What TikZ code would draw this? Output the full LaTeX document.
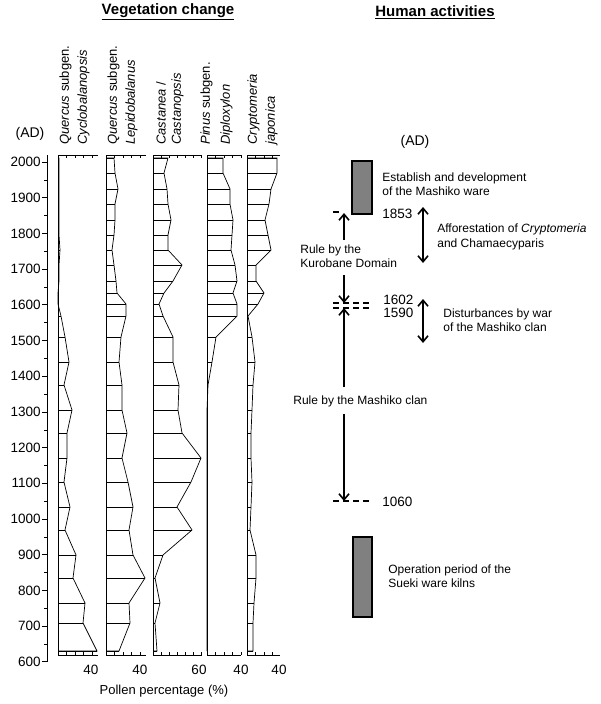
\documentclass[tikz,border=0pt]{standalone}
\usepackage{fontspec}
\setmainfont{Liberation Sans}
\usetikzlibrary{arrows.meta}
\definecolor{waregray}{RGB}{128,128,128}
\tikzset{
  txt/.style={inner sep=0pt,font=\fontsize{12}{14.5}\selectfont},
  spec/.style={inner sep=0pt,rotate=90,anchor=south west,font=\fontsize{13}{15}\selectfont},
  ware/.style={draw,line width=1.5pt,fill=waregray},
  rule/.style={line width=1.6pt,-{Straight Barb[length=6pt,width=10pt]}},
  both/.style={line width=1.6pt,{Straight Barb[length=6pt,width=10pt]}-{Straight Barb[length=6pt,width=10pt]}},
  yeardash/.style={dash pattern=on 6pt off 4pt,line width=1.2pt}
}
\def\ys{{158,173,189,204,220,235,250,265,281,293,304,316,337,362,385,410,433,458,482,507,530,555,578,603,623,651}}
% one pollen column: left edge, axis end, tick step, values
\newcommand\pollencol[4]{%
  \draw (#1,155) -- (#1,655);
  \draw (#1,155) -- (#2,155) (#1,655) -- (#2,655);
  \foreach \t in {#1,#3,...,#2} {\draw (\t,155) -- (\t,158) (\t,655) -- (\t,652);}
  \draw (#1,158) \foreach \v [count=\i] in {#4} { -- ({#1+\v},{\ys[\i-1]}) } -- (#1,651);
  \foreach \v [count=\i] in {#4} {\draw (#1,{\ys[\i-1]}) -- ({#1+\v},{\ys[\i-1]});}
}
\begin{document}
\begin{tikzpicture}[x=1pt,y=-1pt,line width=0.7pt]
\useasboundingbox (0,0) rectangle (600,704);

% headings
\node[font=\bfseries\fontsize{15}{17}\selectfont] (veg) at (168,12) {\underline{Vegetation change}};
\node[font=\bfseries\fontsize{15}{17}\selectfont] (hum) at (435,12) {\underline{Human activities}};

% year axis
\node[font=\fontsize{14}{16}\selectfont] (ad) at (30,134) {(AD)};
\draw (47,155) -- (47,662);
\foreach \a [count=\k from 0] in {2000,1900,...,600} {
  \draw (47,{162+\k*35.7}) -- (42,{162+\k*35.7});
  \node[anchor=east,inner sep=0pt,font=\fontsize{13.5}{15}\selectfont] at (41,{162+\k*35.7}) {\a};
}
\foreach \k in {0,...,13} {\draw (47,{180+\k*35.7}) -- (44,{180+\k*35.7});}

% species
\node[spec] (s1a) at (72,145) {\textit{Quercus} subgen.};
\node[spec] (s1b) at (90,145) {\textit{Cyclobalanopsis}};
\node[spec] (s2a) at (120,145) {\textit{Quercus} subgen.};
\node[spec] (s2b) at (138,145) {\textit{Lepidobalanus}};
\node[spec] (s3a) at (166,145) {\textit{Castanea} /};
\node[spec] (s3b) at (184,145) {\textit{Castanopsis}};
\node[spec] (s4a) at (213,145) {\textit{Pinus} subgen.};
\node[spec] (s4b) at (233,145) {\textit{Diploxylon}};
\node[spec] (s5a) at (260,145) {\textit{Cryptomeria}};
\node[spec] (s5b) at (278,145) {\textit{japonica}};

% pollen columns
\pollencol{58}{98}{66.5}{1,1,1,1,1,1,2,1,1,0,0,3,7,11,6,14,9,9,6,12,7,18,15,27,25,39}
\pollencol{106}{146}{114.5}{8,9,12,9,9,8,6,8,10,11,20,20,15,13,16,16,21,16,22,27,23,27,39,23,24,13}
\pollencol{153}{202}{161}{15,11,14,15,18,15,15,29,20,11,6,10,20,20,26,25,29,48,38,24,39,10,2,7,2,4}
\pollencol{207}{241}{215.5}{16,16,23,23,26,25,24,28,30,26,30,30,9,5,1,0,0,0,0,0,0,0,0,0,0,0}
\pollencol{247}{280}{255.5}{30,30,24,22,18,21,24,9,9,17,11,1,5,8,6,5,4,4,5,4,3,9,9,7,6,6}

\foreach \x/\l in {91/40,140/40,199/60,241/40,279/40}
  \node[font=\fontsize{13.5}{15}\selectfont,inner sep=0pt] at (\x,670) {\l};
\node[txt,font=\fontsize{13}{15}\selectfont] (pp) at (164,691) {Pollen percentage (\%)};

% human activities
\node[font=\fontsize{14}{16}\selectfont] (ad2) at (415,142) {(AD)};
\draw[ware] (352,161) rectangle (372,214);
\node[txt,anchor=west,align=left] (est) at (382,184) {Establish and development\\of the Mashiko ware};
\draw[ware] (353,537) rectangle (372,617);
\node[txt,anchor=west,align=left] (sue) at (388,576) {Operation period of the\\Sueki ware kilns};

\draw[line width=1.2pt] (333,212) -- (339,212);
\draw[yeardash] (333,303) -- (372,303);
\draw[yeardash] (333,308) -- (372,308);
\draw[yeardash] (333,501) -- (372,501);
\node[txt,font=\fontsize{13.5}{15}\selectfont,anchor=west] (y1853) at (382,214) {1853};
\node[txt,font=\fontsize{13.5}{15}\selectfont,anchor=west] (y1602) at (383,300) {1602};
\node[txt,font=\fontsize{13.5}{15}\selectfont,anchor=west] (y1590) at (383,313) {1590};
\node[txt,font=\fontsize{13.5}{15}\selectfont,anchor=west] (y1060) at (382,502) {1060};

\node[txt,align=left,anchor=west] (kur) at (300,256) {Rule by the\\Kurobane Domain};
\coordinate (k1) at (344,213);
\coordinate (k2) at (344,303);
\draw[rule] (344,240) -- (k1);
\draw[rule] (344,275) -- (k2);
\node[txt,anchor=west] (mas) at (293,401) {Rule by the Mashiko clan};
\coordinate (m1) at (344,308);
\coordinate (m2) at (344,501);
\draw[rule] (344,387) -- (m1);
\draw[rule] (344,414) -- (m2);

\coordinate (a1) at (423,207);
\coordinate (a2) at (423,263);
\draw[both] (a1) -- (a2);
\node[txt,anchor=west,align=left] (aff) at (437,237) {Afforestation of \textit{Cryptomeria}\\and Chamaecyparis};
\coordinate (d1) at (423,299);
\coordinate (d2) at (423,343);
\draw[both] (d1) -- (d2);
\node[txt,anchor=west,align=left] (dis) at (443,320) {Disturbances by war\\of the Mashiko clan};
\end{tikzpicture}
\end{document}
